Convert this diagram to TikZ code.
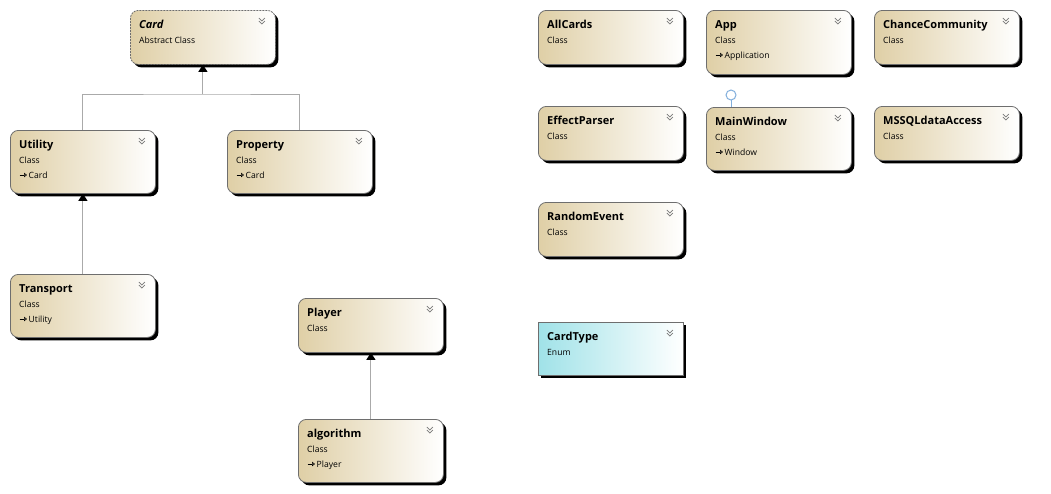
\documentclass[tikz,border=0pt]{standalone}
\usepackage{fontspec}
\setmainfont{Open Sans}
\usetikzlibrary{shadows,arrows.meta}

\definecolor{tanColor}{RGB}{223,207,166}
\definecolor{enumColor}{RGB}{160,226,232}
\definecolor{borderColor}{RGB}{110,110,110}
\definecolor{lineColor}{RGB}{170,170,170}
\definecolor{lolliColor}{RGB}{130,175,220}
\definecolor{chevColor}{RGB}{120,120,120}

\tikzset{
  classbox/.style={draw=borderColor, line width=0.8pt, rounded corners=8pt,
    left color=tanColor, right color=white, anchor=north west, inner sep=0pt,
    minimum width=145pt,
    drop shadow={shadow xshift=3pt, shadow yshift=-3pt, fill=black, opacity=1}},
  abstractbox/.style={classbox, dash pattern=on 2pt off 1pt},
  enumbox/.style={classbox, rounded corners=0pt, left color=enumColor},
  titletext/.style={anchor=base west, inner sep=0pt, font=\fontsize{11}{13}\selectfont\bfseries},
  kindtext/.style={anchor=base west, inner sep=0pt, font=\fontsize{8.6}{10}\selectfont},
  chevron/.style={draw=chevColor, line width=0.7pt},
  gen/.style={draw=lineColor, line width=1pt,
    -{Triangle[length=7pt,width=9pt,color=black,fill=black]}},
  lolli/.style={draw=lolliColor, line width=1pt}
}

% labels and chevron of one box
\newcommand\boxtext[3]{%
  \node[titletext] at ([xshift=9pt,yshift=-18.5pt]#1.north west) {#2};
  \node[kindtext] at ([xshift=9pt,yshift=-33pt]#1.north west) {#3};
  \draw[chevron] ([xshift=-17pt,yshift=-8pt]#1.north east) -- ++(3pt,-3pt) -- ++(3pt,3pt);
  \draw[chevron] ([xshift=-17pt,yshift=-11pt]#1.north east) -- ++(3pt,-3pt) -- ++(3pt,3pt);
}
\newcommand\basetext[2]{%
  \node[kindtext] at ([xshift=9pt,yshift=-48pt]#1.north west)
    {\tikz[baseline=-3pt]\draw[line width=0.6pt,-{Triangle[open,length=3pt,width=4.5pt]}] (0pt,0pt) -- (7.5pt,0pt);\,#2};
}

\begin{document}
\begin{tikzpicture}[x=1pt,y=-1pt]
\path[use as bounding box,fill=white] (0,0) rectangle (1051,493);

% boxes
\node[abstractbox, minimum height=54pt] (card) at (130,10) {};
\node[classbox, minimum height=63pt] (utility) at (10,130) {};
\node[classbox, minimum height=63pt] (property) at (227,130) {};
\node[classbox, minimum height=63pt] (transport) at (10,274) {};
\node[classbox, minimum height=54pt] (player) at (298,298) {};
\node[classbox, minimum height=63pt] (algorithm) at (298,419) {};
\node[classbox, minimum height=54pt] (allcards) at (538,10) {};
\node[classbox, minimum height=64pt] (app) at (706,10) {};
\node[classbox, minimum height=54pt] (chance) at (874,10) {};
\node[classbox, minimum height=54pt] (effect) at (538,106) {};
\node[classbox, minimum height=63pt] (mainwindow) at (706,107) {};
\node[classbox, minimum height=54pt] (mssql) at (874,106) {};
\node[classbox, minimum height=54pt] (random) at (538,202) {};
\node[enumbox, minimum height=53pt] (cardtype) at (538,322) {};

% texts
\boxtext{card}{\itshape Card}{Abstract Class}
\boxtext{utility}{Utility}{Class}
\basetext{utility}{Card}
\boxtext{property}{Property}{Class}
\basetext{property}{Card}
\boxtext{transport}{Transport}{Class}
\basetext{transport}{Utility}
\boxtext{player}{Player}{Class}
\boxtext{algorithm}{algorithm}{Class}
\basetext{algorithm}{Player}
\boxtext{allcards}{AllCards}{Class}
\boxtext{app}{App}{Class}
\basetext{app}{Application}
\boxtext{chance}{ChanceCommunity}{Class}
\boxtext{effect}{EffectParser}{Class}
\boxtext{mainwindow}{MainWindow}{Class}
\basetext{mainwindow}{Window}
\boxtext{mssql}{MSSQLdataAccess}{Class}
\boxtext{random}{RandomEvent}{Class}
\boxtext{cardtype}{CardType}{Enum}

% inheritance
\coordinate (cardj) at (card.south |- 0,94);
\draw[draw=lineColor, line width=1pt] (utility.north) |- (cardj) -| (property.north);
\draw[gen] (cardj) -- (card.south);
\draw[gen] (transport.north) -- (utility.south);
\draw[gen] (algorithm.north) -- (player.south);

% interface lollipop
\coordinate (lolli) at (731,95);
\draw[lolli] (lolli) ++(0,5) -- (lolli |- mainwindow.north);
\draw[lolli, fill=white] (lolli) circle (5pt);
\end{tikzpicture}
\end{document}
